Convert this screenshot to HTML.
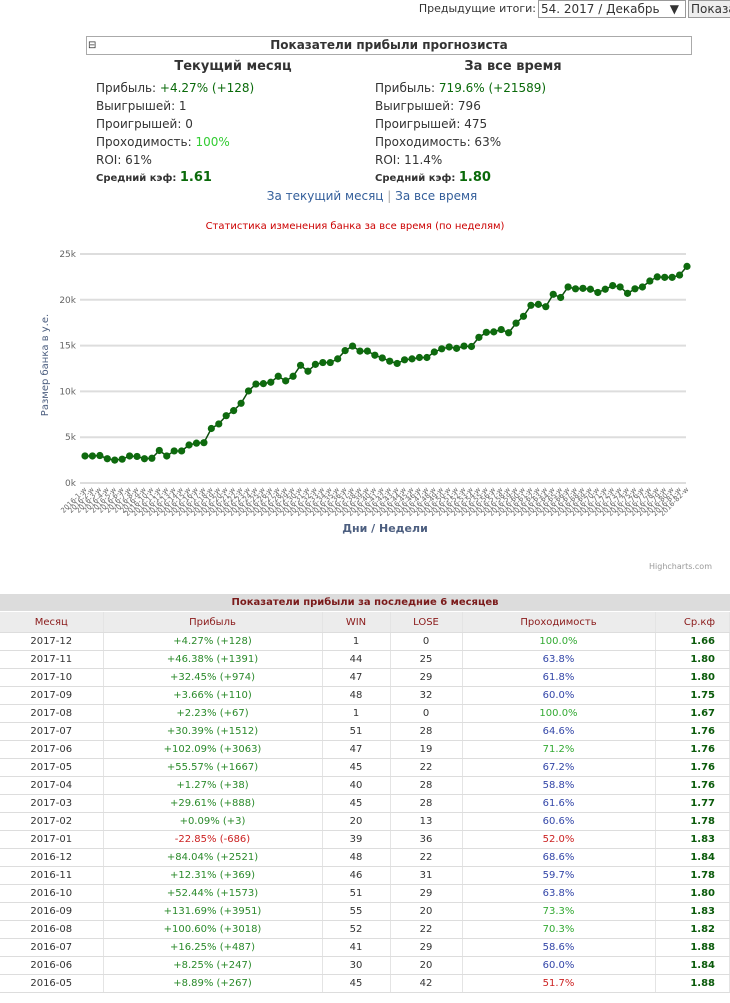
<!DOCTYPE html>
<html><head><meta charset="utf-8"><style>
body{margin:0;width:730px;height:1003px;overflow:hidden;background:#fff;font-family:Verdana,"DejaVu Sans","Liberation Sans",sans-serif;font-size:12px;color:#333;position:relative}
.abs{position:absolute}
.g{color:#2a8a2a}.dg{color:#0a6a0a}
table{border-collapse:collapse;font-size:10px}
td{height:17px;border-bottom:1px solid #ddd;border-right:1px solid #e4e4e4;text-align:center;padding:0}
</style></head><body>
<div class="abs" style="right:194px;top:2px;font-size:11px">Предыдущие итоги:</div>
<div class="abs" style="left:538px;top:0;border:1px solid #999;font-size:12px;line-height:16px;padding-left:2px;box-sizing:border-box;width:148px;height:18px">54. 2017 / Декабрь <span style="position:absolute;right:6px">▼</span></div>
<div class="abs" style="left:688px;top:0;width:50px;height:18px;border:1px solid #999;background:#eee;font-size:12px;line-height:16px;padding-left:2px;box-sizing:border-box">Показа</div>
<div class="abs" style="left:86px;top:36px;width:606px;height:19px;border:1px solid #aaa;box-sizing:border-box;text-align:center;font-weight:bold;font-size:12px;line-height:17px"><span style="position:absolute;left:1px;top:0;font-weight:normal;font-size:10px">⊟</span>Показатели прибыли прогнозиста</div>
<div class="abs" style="left:140px;top:59px;width:186px;text-align:center;font-weight:bold;font-size:13px">Текущий месяц</div>
<div class="abs" style="left:420px;top:59px;width:186px;text-align:center;font-weight:bold;font-size:13px">За все время</div>
<div class="abs" style="left:96px;top:79px;line-height:18px">
<div>Прибыль: <span class="dg">+4.27% (+128)</span></div><div>Выигрышей: 1</div><div>Проигрышей: 0</div><div>Проходимость: <span style="color:#3c3">100%</span></div><div>ROI: 61%</div><div style="font-size:10px;font-weight:bold">Средний кэф: <span class="dg" style="font-size:13px">1.61</span></div></div>
<div class="abs" style="left:375px;top:79px;line-height:18px">
<div>Прибыль: <span class="dg">719.6% (+21589)</span></div><div>Выигрышей: 796</div><div>Проигрышей: 475</div><div>Проходимость: 63%</div><div>ROI: 11.4%</div><div style="font-size:10px;font-weight:bold">Средний кэф: <span class="dg" style="font-size:13px">1.80</span></div></div>
<div class="abs" style="left:0;width:744px;top:189px;text-align:center;color:#335e9a"><span>За текущий месяц</span> <span style="color:#aaa">|</span> <span>За все время</span></div>

<svg class="abs" style="left:0;top:205px" width="730" height="370" id="chart">
<text x="355" y="24" text-anchor="middle" fill="#c00" font-size="10">Статистика изменения банка за все время (по неделям)</text>
<text x="48" y="160" transform="rotate(-90 48 160)" text-anchor="middle" fill="#4d5f80" font-size="10">Размер банка в у.е.</text>
<text x="385" y="327" text-anchor="middle" fill="#4d5f80" font-size="11" font-weight="bold">Дни / Недели</text>
<text x="712" y="364" text-anchor="end" fill="#999" font-size="8">Highcharts.com</text>
</svg>

<div class="abs" style="left:0;top:594px;width:730px;height:17px;background:#dcdcdc;text-align:center;font-size:10px;font-weight:bold;color:#7a1a1a;line-height:17px">Показатели прибыли за последние 6 месяцев</div>
<table class="abs" style="left:0;top:612px;width:730px">
<colgroup><col style="width:103px"><col style="width:219px"><col style="width:68px"><col style="width:72px"><col style="width:193px"><col></colgroup>
<tr style="background:#ececec;color:#8a1a1a"><td style="height:20px">Месяц</td><td>Прибыль</td><td>WIN</td><td>LOSE</td><td>Проходимость</td><td style="text-align:right;padding-right:14px">Ср.кф</td></tr>
<tbody id="tb"></tbody></table>

<script>
const values=[2950,2950,3000,2650,2500,2600,2950,2900,2650,2700,3550,2950,3500,3500,4150,4350,4400,5950,6450,7350,7900,8700,10050,10800,10850,11000,11650,11150,11650,12850,12200,12950,13150,13150,13550,14450,14950,14400,14400,13950,13650,13300,13050,13450,13550,13700,13700,14300,14650,14850,14700,14950,14900,15900,16450,16500,16750,16400,17450,18200,19400,19500,19250,20600,20250,21400,21200,21250,21150,20800,21150,21550,21400,20700,21200,21400,22050,22500,22450,22450,22700,23650];
const yTicks=[0,5000,10000,15000,20000,25000];
const yTickLabels=["0k","5k","10k","15k","20k","25k"];
const categories=values.map((v,i)=>"2016-"+(i+1)+"-w");
const svg=document.getElementById('chart');const NS='http://www.w3.org/2000/svg';
const x0=85,x1=687,yb=278,yt=49,ymax=25000;
const X=i=>x0+(x1-x0)*i/(values.length-1);
const Y=v=>yb-(yb-yt)*v/ymax;
function mk(t,a){const e=document.createElementNS(NS,t);for(const k in a)e.setAttribute(k,a[k]);svg.appendChild(e);return e;}
yTicks.forEach((t,i)=>{const l=mk('line',{x1:80,x2:686,y1:Y(t),y2:Y(t),stroke:'#ddd','stroke-width':2});


const tx=mk('text',{x:76,y:Y(t)+3,'text-anchor':'end','font-size':9,fill:'#666'});tx.textContent=yTickLabels[i];

});
categories.forEach((c,i)=>{const tx=mk('text',{x:X(i)+2,y:yb+7,'text-anchor':'end','font-size':7,fill:'#666',transform:`rotate(-45 ${X(i)+2} ${yb+7})`});tx.textContent=c;

});
const p=mk('polyline',{points:values.map((v,i)=>X(i)+','+Y(v)).join(' '),fill:'none',stroke:'#0d4d0d','stroke-width':1.5});


values.forEach((v,i)=>{const c=mk('circle',{cx:X(i),cy:Y(v),r:3.6,fill:'#0e6a0e'});

});

const months=["2017-12","2017-11","2017-10","2017-09","2017-08","2017-07","2017-06","2017-05","2017-04","2017-03","2017-02","2017-01","2016-12","2016-11","2016-10","2016-09","2016-08","2016-07","2016-06","2016-05"];
const profits=["+4.27% (+128)","+46.38% (+1391)","+32.45% (+974)","+3.66% (+110)","+2.23% (+67)","+30.39% (+1512)","+102.09% (+3063)","+55.57% (+1667)","+1.27% (+38)","+29.61% (+888)","+0.09% (+3)","-22.85% (-686)","+84.04% (+2521)","+12.31% (+369)","+52.44% (+1573)","+131.69% (+3951)","+100.60% (+3018)","+16.25% (+487)","+8.25% (+247)","+8.89% (+267)"];
const wins=[1,44,47,48,1,51,47,45,40,45,20,39,48,46,51,55,52,41,30,45];
const loses=[0,25,29,32,0,28,19,22,28,28,13,36,22,31,29,20,22,29,20,42];
const passRate=["100.0%","63.8%","61.8%","60.0%","100.0%","64.6%","71.2%","67.2%","58.8%","61.6%","60.6%","52.0%","68.6%","59.7%","63.8%","73.3%","70.3%","58.6%","60.0%","51.7%"];
const odds=["1.66","1.80","1.80","1.75","1.67","1.76","1.76","1.76","1.76","1.77","1.78","1.83","1.84","1.78","1.80","1.83","1.82","1.88","1.84","1.88"];
const tb=document.getElementById('tb');
months.forEach((m,i)=>{const tr=document.createElement('tr');


const pr=parseFloat(passRate[i]);const pc=pr>=70?'#3a3':pr<55?'#c22':'#3346a8';
const pfc=profits[i][0]=='-'?'#c22':'#2a8a2a';
tr.innerHTML=`<td>${m}</td><td style="color:${pfc}">${profits[i]}</td><td>${wins[i]}</td><td>${loses[i]}</td><td style="color:${pc}">${passRate[i]}</td><td style="text-align:right;padding-right:14px;font-weight:bold;color:#0a5a0a">${odds[i]}</td>`;
tb.appendChild(tr);});
</script>
</body></html>
